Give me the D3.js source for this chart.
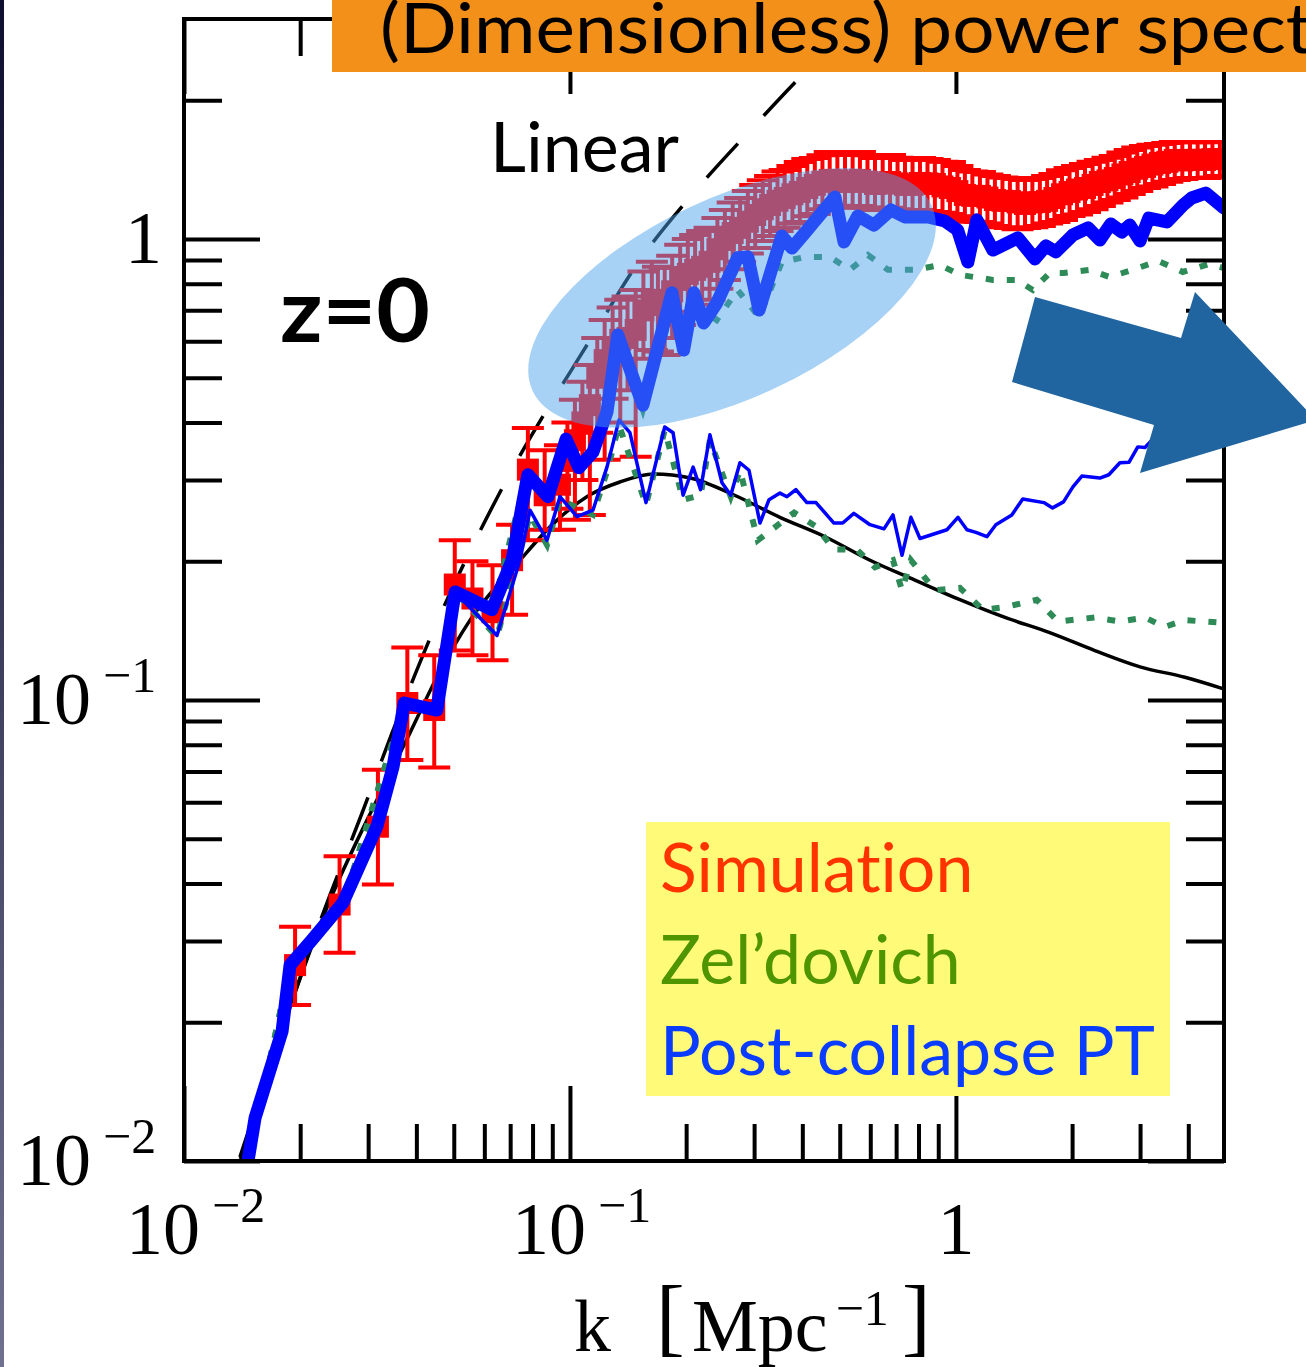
<!DOCTYPE html>
<html>
<head>
<meta charset="utf-8">
<script src="https://cdn.jsdelivr.net/npm/d3@7"></script>
<style>
  html, body { margin: 0; padding: 0; background: #fff; }
  svg { display: block; }
  text { font-variant-ligatures: none; }
</style>
</head>
<body>
<svg id="chart" width="1306" height="1367"></svg>
<script>
// values: k in Mpc^-1, dimensionless power

// linear theory (dashed)
const linK = [0.01396, 0.0239, 0.0288, 0.0346, 0.0429, 0.067, 0.114, 0.150, 0.208, 0.293, 0.394, 0.55]
const linP = [0.0102, 0.0378, 0.0563, 0.0848, 0.133, 0.290, 0.613, 0.887, 1.252, 1.72, 2.24, 2.95]

// smooth black curve
const smoothK = [0.0140, 0.0239, 0.0316, 0.0385, 0.0452, 0.0551, 0.0742, 0.0904, 0.1106, 0.1347, 0.165, 0.205, 0.267, 0.350, 0.458, 0.599, 0.783, 1.024, 1.34, 1.75, 2.29, 3.0, 3.92, 4.94]
const smoothP = [0.0101, 0.0368, 0.0607, 0.0848, 0.112, 0.149, 0.201, 0.241, 0.276, 0.297, 0.309, 0.303, 0.278, 0.249, 0.226, 0.201, 0.182, 0.165, 0.151, 0.140, 0.128, 0.118, 0.112, 0.1057]

// post-collapse PT, main run (thick blue)
const pcK = [0.01465, 0.01528, 0.01795, 0.01883, 0.02134, 0.0258, 0.0316, 0.0348, 0.0372, 0.0452, 0.0504, 0.0628, 0.0708, 0.0778, 0.0877, 0.0977, 0.1055, 0.1147, 0.1247, 0.133, 0.1545, 0.1837, 0.197, 0.2094, 0.222, 0.240, 0.272, 0.289, 0.309, 0.354, 0.376, 0.406, 0.429, 0.486, 0.513, 0.557, 0.613, 0.679, 0.738, 0.846, 0.936, 1.01, 1.074, 1.133, 1.247, 1.447, 1.602, 1.71, 1.815, 2.01, 2.20, 2.36, 2.52, 2.69, 2.82, 3.00, 3.16, 3.52, 3.88, 4.08, 4.44, 4.94]
const pcP = [0.0100, 0.0124, 0.0191, 0.0266, 0.030, 0.0363, 0.0531, 0.0716, 0.0985, 0.0951, 0.1715, 0.157, 0.201, 0.308, 0.276, 0.368, 0.319, 0.345, 0.421, 0.619, 0.436, 0.764, 0.574, 0.764, 0.657, 0.726, 0.910, 0.914, 0.701, 1.015, 0.956, 1.03, 1.089, 1.233, 0.985, 1.122, 1.072, 1.156, 1.116, 1.116, 1.094, 1.046, 0.891, 1.10, 0.946, 1.005, 0.905, 0.966, 0.938, 1.02, 1.057, 0.995, 1.078, 1.035, 1.072, 0.99, 1.11, 1.089, 1.185, 1.227, 1.258, 1.168]

// post-collapse PT, second run (thin blue)
const pc2K = [0.01465, 0.01528, 0.01795, 0.01883, 0.02134, 0.0258, 0.0316, 0.0348, 0.0372, 0.0452, 0.0504, 0.0647, 0.0742, 0.0788, 0.0872, 0.0942, 0.1043, 0.1147, 0.1247, 0.134, 0.143, 0.1574, 0.176, 0.185, 0.1964, 0.2085, 0.218, 0.2305, 0.2477, 0.261, 0.2757, 0.291, 0.3107, 0.3279, 0.35, 0.365, 0.385, 0.411, 0.434, 0.483, 0.509, 0.544, 0.599, 0.651, 0.687, 0.725, 0.7645, 0.807, 0.948, 1.012, 1.068, 1.127, 1.203, 1.269, 1.396, 1.49, 1.69, 1.78, 1.90, 2.01, 2.12, 2.36, 2.49, 2.66, 2.81, 2.96, 3.09, 3.26, 3.8, 4.94]
const pc2P = [0.0100, 0.0124, 0.0191, 0.0266, 0.030, 0.0363, 0.0531, 0.0716, 0.0985, 0.0951, 0.1715, 0.138, 0.201, 0.258, 0.222, 0.276, 0.250, 0.258, 0.320, 0.405, 0.380, 0.268, 0.391, 0.380, 0.278, 0.320, 0.286, 0.376, 0.296, 0.278, 0.327, 0.315, 0.242, 0.272, 0.281, 0.276, 0.286, 0.268, 0.268, 0.242, 0.242, 0.254, 0.240, 0.235, 0.252, 0.206, 0.249, 0.224, 0.234, 0.249, 0.234, 0.231, 0.226, 0.240, 0.252, 0.273, 0.268, 0.261, 0.269, 0.290, 0.306, 0.303, 0.308, 0.327, 0.328, 0.354, 0.353, 0.370, 0.415, 0.46]

// Zel'dovich, main run (upper dotted)
const zelK = [0.01465, 0.0188, 0.0258, 0.0372, 0.0452, 0.0504, 0.0628, 0.0778, 0.0877, 0.0977, 0.106, 0.1247, 0.135, 0.1545, 0.1837, 0.197, 0.2094, 0.240, 0.272, 0.309, 0.354, 0.406, 0.472, 0.531, 0.592, 0.667, 0.783, 0.909, 1.024, 1.247, 1.438, 1.582, 1.75, 1.90, 2.22, 2.50, 2.87, 3.34, 3.87, 4.54, 4.94]
const zelP = [0.0100, 0.0263, 0.036, 0.098, 0.094, 0.1715, 0.155, 0.316, 0.276, 0.358, 0.308, 0.405, 0.589, 0.426, 0.701, 0.561, 0.719, 0.667, 0.775, 0.677, 0.891, 0.914, 0.914, 0.857, 0.923, 0.857, 0.857, 0.878, 0.836, 0.815, 0.815, 0.775, 0.844, 0.844, 0.857, 0.827, 0.857, 0.896, 0.848, 0.883, 0.865]

// Zel'dovich, second run (lower dotted)
const zel2K = [0.01465, 0.0188, 0.0258, 0.0372, 0.0452, 0.0504, 0.0647, 0.0788, 0.0872, 0.0942, 0.1147, 0.1247, 0.134, 0.1574, 0.176, 0.1964, 0.218, 0.2305, 0.261, 0.2757, 0.3067, 0.381, 0.434, 0.483, 0.554, 0.617, 0.687, 0.725, 0.7645, 0.882, 1.024, 1.175, 1.34, 1.62, 1.84, 2.29, 2.66, 3.09, 3.47, 3.92, 4.94]
const zel2P = [0.0100, 0.0263, 0.036, 0.098, 0.094, 0.1715, 0.137, 0.252, 0.217, 0.272, 0.252, 0.313, 0.395, 0.265, 0.385, 0.272, 0.278, 0.366, 0.276, 0.315, 0.222, 0.255, 0.238, 0.212, 0.212, 0.194, 0.201, 0.173, 0.201, 0.173, 0.175, 0.157, 0.159, 0.165, 0.148, 0.151, 0.148, 0.151, 0.144, 0.149, 0.147]

// simulation with error bars
const simK = [0.0194, 0.0253, 0.0318, 0.0379, 0.0445, 0.0503, 0.0559, 0.0630, 0.0708, 0.0778, 0.0860,
  0.0942, 0.0985, 0.103, 0.1077, 0.1126, 0.1177, 0.123, 0.129, 0.135, 0.141, 0.148, 0.155, 0.163, 0.169, 0.176, 0.184, 0.193, 0.202, 0.211, 0.220,
  0.230, 0.241, 0.252, 0.264, 0.276, 0.289, 0.302, 0.316, 0.330, 0.345, 0.360, 0.377, 0.394, 0.412, 0.431, 0.451, 0.471, 0.493, 0.516, 0.540,
  0.564, 0.590, 0.617, 0.646, 0.675, 0.706, 0.738, 0.772, 0.807, 0.844, 0.882, 0.923, 0.965, 1.009, 1.055, 1.103, 1.154, 1.207, 1.262, 1.320,
  1.38, 1.445, 1.51, 1.578, 1.65, 1.723, 1.80, 1.883, 1.97, 2.06, 2.16, 2.26, 2.36, 2.47, 2.58, 2.70, 2.82, 2.95, 3.09, 3.23,
  3.38, 3.53, 3.69, 3.86, 4.04, 4.23, 4.42, 4.62, 4.83]
const simP = [0.0266, 0.0360, 0.0531, 0.0985, 0.0951, 0.178, 0.166, 0.155, 0.201, 0.316, 0.278,
  0.293, 0.33, 0.366, 0.40, 0.436, 0.50, 0.546, 0.58, 0.604, 0.61, 0.635, 0.70, 0.738, 0.72, 0.719, 0.77, 0.815, 0.84, 0.857, 0.87,
  0.892, 0.95, 0.995, 1.03, 1.057, 1.09, 1.127, 1.16, 1.185, 1.21, 1.227, 1.25, 1.265, 1.29, 1.310, 1.33, 1.343, 1.34, 1.329, 1.33,
  1.343, 1.33, 1.316, 1.32, 1.329, 1.32, 1.310, 1.31, 1.323, 1.32, 1.316, 1.30, 1.290, 1.27, 1.246, 1.24, 1.240, 1.23, 1.215, 1.21,
  1.209, 1.20, 1.191, 1.20, 1.203, 1.21, 1.227, 1.25, 1.265, 1.28, 1.290, 1.31, 1.329, 1.34, 1.356, 1.38, 1.397, 1.42, 1.433, 1.45,
  1.462, 1.47, 1.484, 1.48, 1.484, 1.485, 1.484, 1.49, 1.491]
const simHi = [0.0322, 0.0458, 0.0706, 0.130, 0.125, 0.222, 0.20, 0.196, 0.24, 0.389, 0.348,
  0.357, 0.40, 0.448, 0.49, 0.533, 0.61, 0.667, 0.71, 0.738, 0.75, 0.775, 0.85, 0.892, 0.87, 0.865, 0.92, 0.971, 1.00, 1.020, 1.04,
  1.057, 1.11, 1.156, 1.20, 1.227, 1.27, 1.310, 1.34, 1.370, 1.40, 1.412, 1.44, 1.469, 1.49, 1.499, 1.52, 1.544, 1.54, 1.521, 1.53,
  1.544, 1.52, 1.499, 1.51, 1.521, 1.50, 1.484, 1.49, 1.499, 1.49, 1.484, 1.47, 1.469, 1.44, 1.412, 1.40, 1.397, 1.38, 1.370, 1.36,
  1.356, 1.35, 1.343, 1.35, 1.356, 1.37, 1.384, 1.41, 1.426, 1.44, 1.455, 1.47, 1.484, 1.50, 1.514, 1.54, 1.560, 1.58, 1.591, 1.60,
  1.607, 1.615, 1.623, 1.62, 1.623, 1.62, 1.623, 1.62, 1.623]
const simLo = [0.0218, 0.0283, 0.0398, 0.0741, 0.0714, 0.128, 0.125, 0.122, 0.153, 0.222, 0.234,
  0.234, 0.26, 0.246, 0.30, 0.252, 0.38, 0.332, 0.45, 0.40, 0.47, 0.337, 0.55, 0.574, 0.57, 0.560, 0.61, 0.651, 0.68, 0.695, 0.72,
  0.738, 0.78, 0.815, 0.86, 0.892, 0.93, 0.956, 0.99, 1.015, 1.04, 1.057, 1.08, 1.089, 1.12, 1.133, 1.16, 1.179, 1.18, 1.168, 1.17,
  1.179, 1.17, 1.156, 1.16, 1.168, 1.16, 1.144, 1.15, 1.156, 1.15, 1.144, 1.14, 1.133, 1.12, 1.100, 1.09, 1.089, 1.08, 1.067, 1.06,
  1.056, 1.05, 1.056, 1.06, 1.067, 1.08, 1.089, 1.10, 1.122, 1.13, 1.144, 1.16, 1.179, 1.20, 1.215, 1.23, 1.252, 1.27, 1.290, 1.30,
  1.316, 1.33, 1.343, 1.35, 1.356, 1.356, 1.356, 1.36, 1.370]

// axis ticks
const majorTicks = [0.01, 0.1, 1]
const xMinorTicks = [0.02, 0.03, 0.04, 0.05, 0.06, 0.07, 0.08, 0.09, 0.2, 0.3, 0.4, 0.5, 0.6, 0.7, 0.8, 0.9, 2, 3, 4]
const yMinorTicks = [0.02, 0.03, 0.04, 0.05, 0.06, 0.07, 0.08, 0.09, 0.2, 0.3, 0.4, 0.5, 0.6, 0.7, 0.8, 0.9, 2]
const tickLabels = [{ v: 0.01, base: '10', exp: '−2' }, { v: 0.1, base: '10', exp: '−1' }, { v: 1, base: '1', exp: '' }]

const legendItems = [
  { label: 'Simulation', color: '#ff3300' },
  { label: 'Zel’dovich', color: '#4f9500' },
  { label: 'Post-collapse PT', color: '#0a3cff' }
]

// ---- layout ----
const plotL = 184
const plotR = 1224
const plotT = 19
const plotB = 1161
const serif = '"Liberation Serif", "Times New Roman", serif'
const sans = 'Lato, "Open Sans", sans-serif'

const svg = d3.select('#chart')
const x = d3.scaleLog().domain([0.01, 4.95]).range([plotL, plotR])
const y = d3.scaleLog().domain([0.01, 3]).range([plotB, plotT])
const zip = (ks, vs) => ks.map((k, i) => [k, vs[i]])

svg.append('rect').attr('width', 1306).attr('height', 1367).attr('fill', '#fff')

// thin dark strip on the left edge of the slide
const defs = svg.append('defs')
const grad = defs.append('linearGradient')
  .attr('id', 'strip').attr('x1', 0).attr('y1', 0).attr('x2', 0).attr('y2', 1)
grad.append('stop').attr('offset', '0%').attr('stop-color', '#0e0e30')
grad.append('stop').attr('offset', '100%').attr('stop-color', '#707090')
svg.append('rect').attr('x', 0).attr('y', 0).attr('width', 4).attr('height', 1367).attr('fill', 'url(#strip)')

defs.append('clipPath').attr('id', 'plot-clip')
  .append('rect').attr('x', plotL).attr('y', plotT).attr('width', plotR - plotL).attr('height', plotB - plotT)

const plot = svg.append('g').attr('clip-path', 'url(#plot-clip)')

const smoothLine = d3.line().x(d => x(d[0])).y(d => y(d[1])).curve(d3.curveMonotoneX)
const rawLine = d3.line().x(d => x(d[0])).y(d => y(d[1]))

plot.append('path').datum(zip(linK, linP))
  .attr('d', smoothLine).attr('fill', 'none').attr('stroke', '#000')
  .attr('stroke-width', 3.5).attr('stroke-dasharray', '46,38')

plot.append('path').datum(zip(smoothK, smoothP))
  .attr('d', smoothLine).attr('fill', 'none').attr('stroke', '#000').attr('stroke-width', 3.5)

// simulation error bars and square markers
const sim = simK.map((k, i) => ({ k, p: simP[i], lo: simLo[i], hi: simHi[i] }))
const bars = plot.append('g').attr('stroke', '#ff0000').attr('stroke-width', 4)
bars.selectAll('line.v').data(sim).enter().append('line')
  .attr('x1', d => x(d.k)).attr('x2', d => x(d.k))
  .attr('y1', d => y(d.hi)).attr('y2', d => y(d.lo))
bars.selectAll('line.hi').data(sim).enter().append('line')
  .attr('x1', d => x(d.k) - 16).attr('x2', d => x(d.k) + 16)
  .attr('y1', d => y(d.hi)).attr('y2', d => y(d.hi))
bars.selectAll('line.lo').data(sim).enter().append('line')
  .attr('x1', d => x(d.k) - 16).attr('x2', d => x(d.k) + 16)
  .attr('y1', d => y(d.lo)).attr('y2', d => y(d.lo))
plot.append('g').selectAll('rect').data(sim).enter().append('rect')
  .attr('x', d => x(d.k) - 11).attr('y', d => y(d.p) - 11)
  .attr('width', 22).attr('height', 22).attr('fill', '#ff0000')

// Zel'dovich dotted curves
;[zip(zelK, zelP), zip(zel2K, zel2P)].forEach(s => {
  plot.append('path').datum(s)
    .attr('d', rawLine).attr('fill', 'none').attr('stroke', '#2e8b57')
    .attr('stroke-width', 6).attr('stroke-dasharray', '8,13')
})

plot.append('path').datum(zip(pc2K, pc2P))
  .attr('d', rawLine).attr('fill', 'none').attr('stroke', '#0000ff')
  .attr('stroke-width', 3.5).attr('stroke-linejoin', 'round')

plot.append('path').datum(zip(pcK, pcP))
  .attr('d', rawLine).attr('fill', 'none').attr('stroke', '#0000ff')
  .attr('stroke-width', 13).attr('stroke-linejoin', 'round').attr('stroke-linecap', 'round')

// highlighted region
svg.append('ellipse')
  .attr('transform', `translate(${x(0.263)},${y(0.745)}) rotate(-25)`)
  .attr('rx', 220).attr('ry', 100)
  .attr('fill', '#4ea2ec').attr('fill-opacity', 0.49)

// axes: frame plus inward ticks on all four sides
svg.append('rect').attr('x', plotL).attr('y', plotT).attr('width', plotR - plotL).attr('height', plotB - plotT)
  .attr('fill', 'none').attr('stroke', '#000').attr('stroke-width', 4)

function ticks (axis, tx, ty) {
  const g = svg.append('g').attr('transform', `translate(${tx},${ty})`).call(axis)
  g.select('.domain').remove()
  g.selectAll('.tick line').attr('stroke', '#000').attr('stroke-width', 4)
  g.selectAll('.tick text').remove()
}
ticks(d3.axisBottom(x).tickValues(xMinorTicks).tickSize(-37), 0, plotB)
ticks(d3.axisBottom(x).tickValues(majorTicks).tickSize(-75), 0, plotB)
ticks(d3.axisTop(x).tickValues(xMinorTicks).tickSize(-37), 0, plotT)
ticks(d3.axisTop(x).tickValues(majorTicks).tickSize(-75), 0, plotT)
ticks(d3.axisLeft(y).tickValues(yMinorTicks).tickSize(-38), plotL, 0)
ticks(d3.axisLeft(y).tickValues(majorTicks).tickSize(-76), plotL, 0)
ticks(d3.axisRight(y).tickValues(yMinorTicks).tickSize(-38), plotR, 0)
ticks(d3.axisRight(y).tickValues(majorTicks).tickSize(-76), plotR, 0)

// tick labels
const yLab = svg.append('g').attr('font-family', serif).attr('font-size', 74).attr('fill', '#000')
tickLabels.forEach(t => {
  const ty = y(t.v) + 24
  if (t.exp) {
    const txt = yLab.append('text').attr('x', 17).attr('y', ty).text(t.base)
    txt.append('tspan').attr('dx', 12).attr('dy', -32).attr('font-size', 50).text(t.exp)
  } else {
    yLab.append('text').attr('x', 162).attr('y', ty).attr('text-anchor', 'end').text(t.base)
  }
})
const xLab = svg.append('g').attr('font-family', serif).attr('font-size', 74).attr('fill', '#000')
tickLabels.forEach(t => {
  if (t.exp) {
    const txt = xLab.append('text').attr('x', x(t.v) - 58).attr('y', 1254).text(t.base)
    txt.append('tspan').attr('dx', 12).attr('dy', -32).attr('font-size', 50).text(t.exp)
  } else {
    xLab.append('text').attr('x', x(t.v)).attr('y', 1254).attr('text-anchor', 'middle').text(t.base)
  }
})

// axis title k [Mpc^-1]
const xt = svg.append('g').attr('font-family', serif).attr('fill', '#000')
xt.append('text').attr('x', 574).attr('y', 1351).attr('font-size', 74).text('k')
xt.append('text').attr('x', 656).attr('y', 1345).attr('font-size', 86).text('[')
const mpc = xt.append('text').attr('x', 692).attr('y', 1351).attr('font-size', 74).text('Mpc')
mpc.append('tspan').attr('dx', 8).attr('dy', -26).attr('font-size', 50).text('−1')
xt.append('text').attr('x', 902).attr('y', 1345).attr('font-size', 86).text(']')

// title bar (runs off the slide edge, as in the original slide)
svg.append('rect').attr('x', 332).attr('y', 0).attr('width', 1306 - 332).attr('height', 72).attr('fill', '#f3901a')
svg.append('text').attr('x', 380).attr('y', 53)
  .attr('font-family', sans).attr('font-size', 70).attr('fill', '#000')
  .attr('textLength', 1063).attr('lengthAdjust', 'spacingAndGlyphs')
  .text('(Dimensionless) power spectrum')

svg.append('text').attr('x', 490).attr('y', 172)
  .attr('font-family', sans).attr('font-size', 70).attr('fill', '#000').text('Linear')
svg.append('text').attr('x', 280).attr('y', 342)
  .attr('font-family', sans).attr('font-weight', 700).attr('font-size', 88).attr('fill', '#000')
  .attr('textLength', 150).attr('lengthAdjust', 'spacingAndGlyphs').text('z=0')

// big arrow pointing to the next slide
svg.append('polygon')
  .attr('points', [[1035, 297], [1181, 338], [1195, 292], [1316, 420], [1140, 473], [1154, 425], [1012, 382]].join(' '))
  .attr('fill', '#2064a0')

// legend
svg.append('rect').attr('x', 646).attr('y', 822).attr('width', 524).attr('height', 274).attr('fill', '#fffa78')
svg.append('g').selectAll('text').data(legendItems).enter().append('text')
  .attr('x', 660).attr('y', (d, i) => 892 + i * 91.5)
  .attr('font-family', sans).attr('font-size', 68)
  .attr('fill', d => d.color).text(d => d.label)
</script>
</body>
</html>
